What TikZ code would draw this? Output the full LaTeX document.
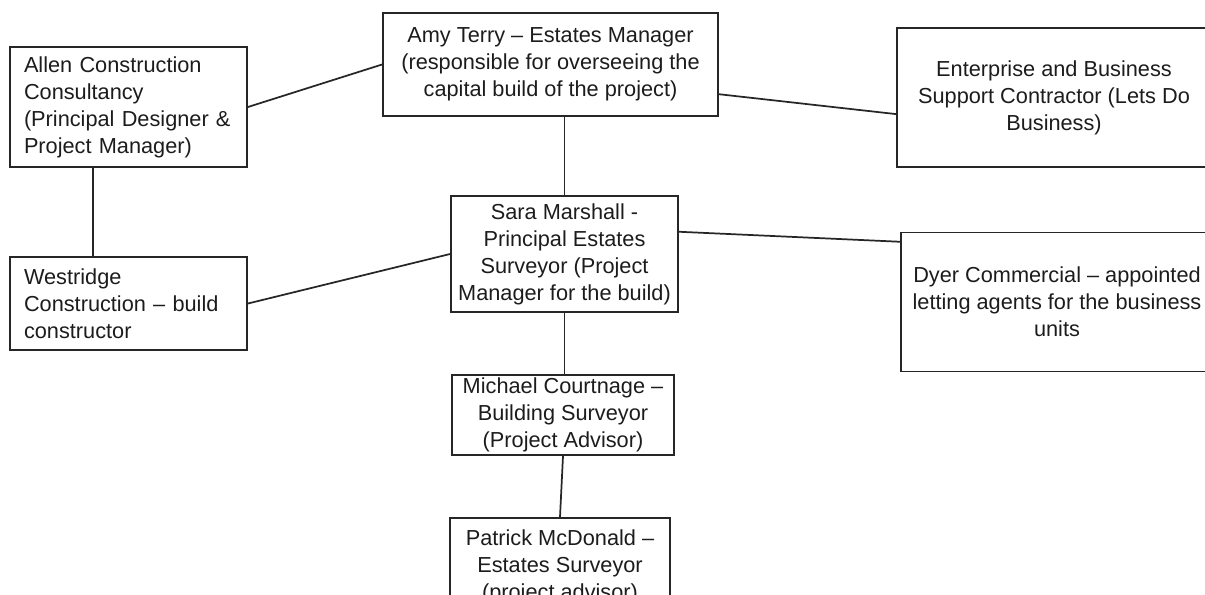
\documentclass[tikz,border=0pt]{standalone}
\usepackage{fontspec}
\setmainfont{Liberation Sans}
\usepackage{xcolor}
\usetikzlibrary{calc}

\definecolor{boxline}{HTML}{262626}
\definecolor{boxtext}{HTML}{1C1C1C}

\begin{document}
\begin{tikzpicture}[x=0.75pt, y=-0.75pt,
  every node/.style={font=\fontsize{16.3}{20.25}\selectfont, text=boxtext},
  role/.style={draw=boxline, line width=1.4pt, inner sep=0pt, align=center},
  roleleft/.style={draw=boxline, line width=1.4pt, inner xsep=10.5pt, inner ysep=0pt, align=left},
  link/.style={draw=boxline, line width=1.3pt}]

\clip (0,0) rectangle (1205,594);

% top row
\node[roleleft, text width=156.75pt, minimum height=90pt] (allen) at (128.5,107)
  {Allen Construction\\Consultancy\\(Principal Designer \&\\Project Manager)};
\node[role, minimum width=251.25pt, minimum height=77.25pt] (amy) at (550.5,64.5)
  {Amy Terry – Estates Manager\\(responsible for overseeing the\\capital build of the project)};
\node[role, minimum width=235.5pt, minimum height=104.25pt] (ent) at (1054,97.5)
  {Enterprise and Business\\Support Contractor (Lets Do\\Business)};

% middle row
\node[roleleft, text width=156.75pt, minimum height=69.75pt] (west) at (128.5,303.5)
  {Westridge\\Construction – build\\constructor};
\node[role, minimum width=170.25pt, minimum height=87pt] (sara) at (564.5,254)
  {Sara Marshall -\\Principal Estates\\Surveyor (Project\\Manager for the build)};
\node[role, minimum width=234pt, minimum height=104.25pt] (dyer) at (1057,302)
  {Dyer Commercial – appointed\\letting agents for the business\\units};

% lower chain
\node[role, minimum width=166.5pt, minimum height=60pt] (mich) at (563,415)
  {Michael Courtnage –\\Building Surveyor\\(Project Advisor)};
\node[role, minimum width=165pt, minimum height=73.5pt] (pat) at (560,567)
  {Patrick McDonald –\\Estates Surveyor\\(project advisor)};

% connectors
\draw[link] (allen.east) -- (amy.west);
\draw[link] (amy.-10) -- (ent.186);
\draw[link] (amy.south -| sara.north) -- (sara.north);
\draw[link] (allen.-120) -- (allen.-120 |- west.north);
\draw[link] (west.east) -- (sara.west);
\draw[link] (sara.11) -- (dyer.159);
\draw[link] (sara.south) -- (sara.south |- mich.north);
\draw[link] (mich.south) -- (pat.north);

\end{tikzpicture}
\end{document}
